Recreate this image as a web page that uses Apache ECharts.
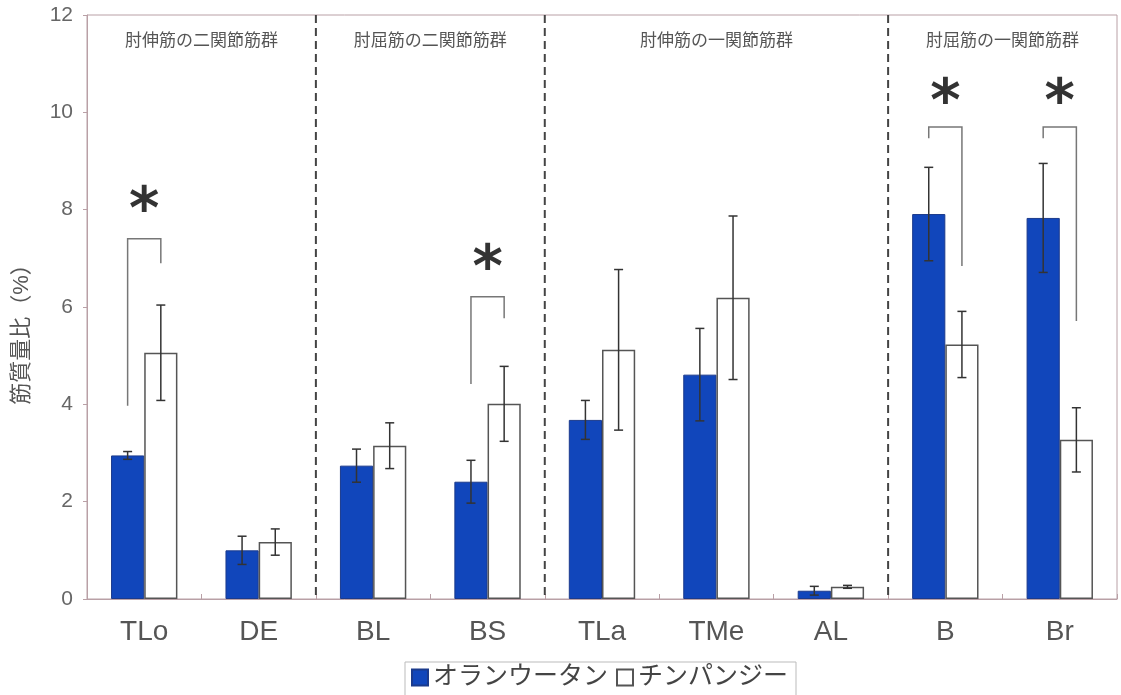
<!DOCTYPE html>
<html>
<head>
<meta charset="utf-8">
<script src="https://cdn.jsdelivr.net/npm/echarts@6/dist/echarts.min.js"></script>
<style>
  html, body { margin: 0; padding: 0; background: #ffffff; }
  #chart { width: 1121px; height: 695px; }
</style>
</head>
<body>
<div id="chart"></div>
<script>
// Muscles (elbow region) and mass ratios (%), mean and SD per species
const categories = ['TLo', 'DE', 'BL', 'BS', 'TLa', 'TMe', 'AL', 'B', 'Br'];
const orangutanMean = [2.95, 1.00, 2.74, 2.41, 3.68, 4.61, 0.17, 7.91, 7.83];
const orangutanSD   = [0.08, 0.29, 0.34, 0.44, 0.40, 0.95, 0.09, 0.96, 1.12];
const chimpMean     = [5.06, 1.17, 3.15, 4.01, 5.12, 6.19, 0.25, 5.23, 3.27];
const chimpSD       = [0.98, 0.27, 0.47, 0.77, 1.65, 1.68, 0.03, 0.68, 0.66];

const seriesNames = ['オランウータン', 'チンパンジー'];
const yAxisTitle = '筋質量比（%）';

// Muscle groups: label, first and last category index
const groupLabels = ['肘伸筋の二関節筋群', '肘屈筋の二関節筋群', '肘伸筋の一関節筋群', '肘屈筋の一関節筋群'];
const groupFirst = [0, 2, 4, 7];
const groupLast  = [1, 3, 6, 8];
const separatorsAfter = [1, 3, 6];

// Significant differences: category, bracket top, left leg end, right leg end, star height
const sigCategory = [0, 3, 7, 8];
const sigTop      = [7.40, 6.21, 9.70, 9.70];
const sigLeftEnd  = [3.97, 4.42, 9.47, 9.47];
const sigRightEnd = [6.90, 5.77, 6.84, 5.71];
const sigStar     = [8.22, 7.03, 10.44, 10.44];
const sigMark = '*';

// Value axis
const yMin = 0, yMax = 12, yStep = 2;

const BAR_RATIO = 0.29;
const FONT = "'Liberation Sans', 'Noto Sans CJK JP', sans-serif";
const FRAME = '#b9a0a6';

const errData = [];
orangutanMean.forEach((m, i) => errData.push([i, m, orangutanSD[i], 0]));
chimpMean.forEach((m, i) => errData.push([i, m, chimpSD[i], 1]));

function barCenter(api, i, side) {
  const band = api.size([1, 0])[0];
  const bw = band * BAR_RATIO;
  return api.coord([i, 0])[0] + (side === 0 ? -bw / 2 : bw / 2);
}

function renderError(params, api) {
  const i = api.value(0), m = api.value(1), e = api.value(2), side = api.value(3);
  const x = barCenter(api, i, side);
  const yHi = api.coord([i, m + e])[1];
  const yLo = api.coord([i, m - e])[1];
  const cap = 4.5;
  const st = { stroke: '#333', lineWidth: 1.5 };
  return {
    type: 'group',
    children: [
      { type: 'line', shape: { x1: x, y1: yHi, x2: x, y2: yLo }, style: st },
      { type: 'line', shape: { x1: x - cap, y1: yHi, x2: x + cap, y2: yHi }, style: st },
      { type: 'line', shape: { x1: x - cap, y1: yLo, x2: x + cap, y2: yLo }, style: st }
    ]
  };
}

function renderSeparator(params, api) {
  const i = api.value(0);
  const band = api.size([1, 0])[0];
  const x = api.coord([i, 0])[0] + band / 2;
  return {
    type: 'line',
    shape: { x1: x, y1: api.coord([i, yMax])[1], x2: x, y2: api.coord([i, yMin])[1] },
    style: { stroke: '#444', lineWidth: 2, lineDash: [8, 5] }
  };
}

function renderGroupLabel(params, api) {
  const f = api.value(0), l = api.value(1);
  const x = (api.coord([f, yMax])[0] + api.coord([l, yMax])[0]) / 2;
  const y = api.coord([f, yMax])[1] + 26;
  return {
    type: 'text',
    style: {
      text: groupLabels[params.dataIndex], x: x, y: y,
      align: 'center', verticalAlign: 'middle',
      fontSize: 17, fontFamily: FONT, fill: '#555'
    }
  };
}

function renderSig(params, api) {
  const i = api.value(0);
  const xl = barCenter(api, i, 0), xr = barCenter(api, i, 1);
  const yTop = api.coord([i, api.value(1)])[1];
  const yL = api.coord([i, api.value(2)])[1];
  const yR = api.coord([i, api.value(3)])[1];
  const yS = api.coord([i, api.value(4)])[1];
  return {
    type: 'group',
    children: [
      {
        type: 'polyline',
        shape: { points: [[xl, yL], [xl, yTop], [xr, yTop], [xr, yR]] },
        style: { stroke: '#777', lineWidth: 1.5, fill: null }
      },
      {
        // the asterisk glyph sits high in its box, so it is set a little lower
        type: 'text',
        style: {
          text: sigMark, x: (xl + xr) / 2, y: yS + 14,
          align: 'center', verticalAlign: 'middle',
          fontSize: 58, fontWeight: 'bold', fontFamily: "'DejaVu Sans', sans-serif", fill: '#333'
        }
      }
    ]
  };
}

const chart = echarts.init(document.getElementById('chart'), null, { renderer: 'canvas' });

chart.setOption({
  animation: false,
  backgroundColor: '#ffffff',
  textStyle: { fontFamily: FONT },
  grid: {
    left: 87, right: 4, top: 15, bottom: 96,
    show: true, borderColor: FRAME, borderWidth: 1, backgroundColor: 'transparent'
  },
  legend: {
    data: seriesNames,
    left: 405, top: 662,
    orient: 'horizontal',
    icon: 'rect',
    itemWidth: 16, itemHeight: 16, itemGap: 8,
    padding: [3, 8, 10, 6],
    borderColor: '#bbbbbb', borderWidth: 1,
    textStyle: { fontSize: 25, color: '#444', fontFamily: FONT }
  },
  xAxis: {
    type: 'category',
    data: categories,
    axisLine: { show: true, lineStyle: { color: FRAME, width: 1 } },
    axisTick: { show: true, inside: true, length: 5, lineStyle: { color: FRAME } },
    axisLabel: { fontSize: 28, color: '#555', margin: 19, fontFamily: FONT },
    splitLine: { show: false }
  },
  yAxis: {
    type: 'value',
    min: yMin, max: yMax, interval: yStep,
    axisLine: { show: true, lineStyle: { color: FRAME, width: 1 } },
    axisTick: { show: true, inside: false, length: 4, lineStyle: { color: FRAME } },
    axisLabel: { fontSize: 21, color: '#666', margin: 14, fontFamily: FONT },
    splitLine: { show: false }
  },
  graphic: [{
    type: 'text',
    x: 22, y: 329,
    rotation: Math.PI / 2,
    style: {
      text: yAxisTitle, align: 'center', verticalAlign: 'middle',
      fontSize: 22, fill: '#555', fontFamily: FONT
    }
  }],
  series: [
    {
      name: seriesNames[0],
      type: 'bar',
      data: orangutanMean,
      barWidth: (BAR_RATIO * 100) + '%',
      barGap: '0%',
      itemStyle: { color: '#1146bb', borderColor: '#1b3a8c', borderWidth: 1 },
      z: 2
    },
    {
      name: seriesNames[1],
      type: 'bar',
      data: chimpMean,
      barWidth: (BAR_RATIO * 100) + '%',
      barGap: '0%',
      itemStyle: { color: '#ffffff', borderColor: '#555555', borderWidth: 1.5 },
      z: 2
    },
    {
      type: 'custom',
      renderItem: renderError,
      data: errData,
      encode: { x: 0, y: 1 },
      z: 4,
      silent: true
    },
    {
      type: 'custom',
      renderItem: renderSeparator,
      data: separatorsAfter.map(i => [i, yMax]),
      encode: { x: 0, y: 1 },
      z: 3,
      silent: true
    },
    {
      type: 'custom',
      renderItem: renderGroupLabel,
      data: groupFirst.map((f, k) => [f, groupLast[k], yMax]),
      encode: { x: [0, 1], y: 2 },
      z: 3,
      silent: true
    },
    {
      type: 'custom',
      renderItem: renderSig,
      data: sigCategory.map((c, k) => [c, sigTop[k], sigLeftEnd[k], sigRightEnd[k], sigStar[k]]),
      encode: { x: 0, y: [1, 2, 3, 4] },
      z: 4,
      silent: true
    }
  ]
});
</script>
</body>
</html>
